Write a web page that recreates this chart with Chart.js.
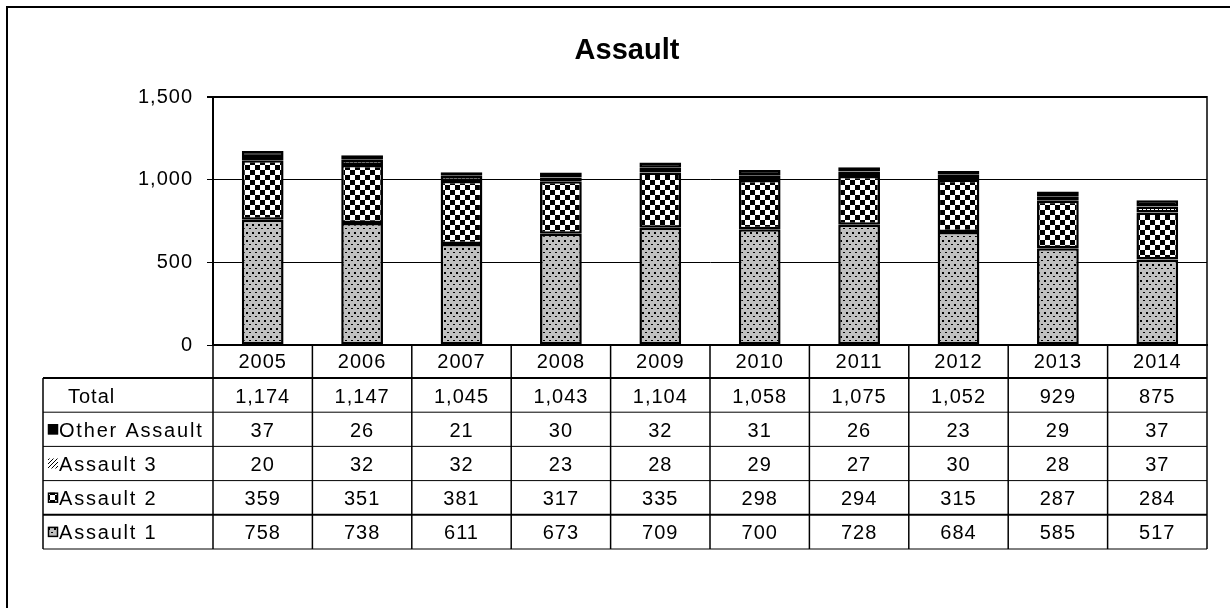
<!DOCTYPE html>
<html>
<head>
<meta charset="utf-8">
<script src="https://cdn.jsdelivr.net/npm/chart.js@4/dist/chart.umd.min.js"></script>
<style>
  html, body { margin: 0; padding: 0; background: #fff; }
</style>
</head>
<body>
<canvas id="graficoAssault" width="1230" height="608"></canvas>
<script>
const anos = ['2005', '2006', '2007', '2008', '2009', '2010', '2011', '2012', '2013', '2014'];
const assault1 = [758, 738, 611, 673, 709, 700, 728, 684, 585, 517];
const assault2 = [359, 351, 381, 317, 335, 298, 294, 315, 287, 284];
const assault3 = [20, 32, 32, 23, 28, 29, 27, 30, 28, 37];
const outroAssault = [37, 26, 21, 30, 32, 31, 26, 23, 29, 37];
const totais = [1174, 1147, 1045, 1043, 1104, 1058, 1075, 1052, 929, 875];
const ticksY = [0, 500, 1000, 1500];

const fonte = 'Arial, "Liberation Sans", sans-serif';

// padroes de preenchimento estilo Excel
function padrao(w, h, desenha) {
    const c = document.createElement('canvas');
    c.width = w; c.height = h;
    const g = c.getContext('2d');
    desenha(g);
    return g.createPattern(c, 'repeat');
}
const pontos = padrao(6, 8, g => {
    g.fillStyle = '#c0c0c0'; g.fillRect(0, 0, 6, 8);
    g.fillStyle = '#000'; g.fillRect(0, 0, 2, 2); g.fillRect(3, 4, 2, 1);
});
const xadrez = padrao(10, 10, g => {
    g.fillStyle = '#fff'; g.fillRect(0, 0, 10, 10);
    g.fillStyle = '#000'; g.fillRect(0, 0, 5, 5); g.fillRect(5, 5, 5, 5);
});
const hachura = padrao(4, 4, g => {
    g.fillStyle = '#fff'; g.fillRect(0, 0, 4, 4);
    g.fillStyle = '#000';
    g.fillRect(3, 0, 1, 1); g.fillRect(2, 1, 1, 1); g.fillRect(1, 2, 1, 1); g.fillRect(0, 3, 1, 1);
});

const linhasTabela = [
    { nome: 'Total', valores: totais, cor: null },
    { nome: 'Other Assault', valores: outroAssault, cor: '#000' },
    { nome: 'Assault 3', valores: assault3, cor: hachura },
    { nome: 'Assault 2', valores: assault2, cor: xadrez },
    { nome: 'Assault 1', valores: assault1, cor: pontos }
];

const tabela = {
    id: 'tabela',
    beforeDraw(chart) {
        const ctx = chart.ctx;
        ctx.save();
        ctx.fillStyle = '#fff';
        ctx.fillRect(0, 0, chart.width, chart.height);
        ctx.strokeStyle = '#000';
        ctx.lineWidth = 2;
        ctx.beginPath();
        ctx.moveTo(7, chart.height + 5); ctx.lineTo(7, 7); ctx.lineTo(chart.width + 5, 7);
        ctx.stroke();
        ctx.restore();
        ctx.letterSpacing = '1px';
    },
    afterDraw(chart) {
        const { ctx, chartArea: a } = chart;
        const n = anos.length;
        const larg = (a.right - a.left) / n;
        const topo = a.bottom + 33;
        const alt = 34.2;
        const fundo = topo + alt * 5;
        const esq = 43;
        const linha = (x1, y1, x2, y2, w) => {
            ctx.lineWidth = w;
            ctx.beginPath(); ctx.moveTo(x1, y1); ctx.lineTo(x2, y2); ctx.stroke();
        };
        ctx.save();
        ctx.strokeStyle = '#000';
        linha(a.right, a.top - 1, a.right, a.bottom, 1.5);
        for (let i = 0; i <= n; i++) {
            const xx = a.left + i * larg;
            linha(xx, a.bottom, xx, fundo, 1.5);
        }
        linha(esq, topo, esq, fundo, 1.5);
        [2, 1, 1, 1, 2, 1].forEach((w, k) => linha(esq, topo + k * alt, a.right, topo + k * alt, w));

        ctx.fillStyle = '#000';
        ctx.font = '20px ' + fonte;
        ctx.textBaseline = 'alphabetic';
        linhasTabela.forEach((r, k) => {
            const yc = topo + alt * k + alt / 2;
            ctx.letterSpacing = '1px';
            ctx.textAlign = 'center';
            r.valores.forEach((v, i) => {
                ctx.fillText(v.toLocaleString('en-US'), a.left + (i + 0.5) * larg, yc + 7.5);
            });
            ctx.textAlign = 'left';
            if (r.cor) {
                ctx.fillStyle = r.cor;
                ctx.fillRect(48, yc - 5, 10, 10);
                ctx.lineWidth = 1.5;
                if (r.cor !== hachura) ctx.strokeRect(48.5, yc - 4.5, 9, 9);
                ctx.fillStyle = '#000';
                ctx.letterSpacing = '1.8px';
                ctx.fillText(r.nome, 59, yc + 7.5);
            } else {
                ctx.fillText(r.nome, 68, yc + 7.5);
            }
        });

        ctx.letterSpacing = '0px';
        ctx.font = 'bold 29px ' + fonte;
        ctx.textAlign = 'center';
        ctx.fillText('Assault', 627, 59);
        ctx.restore();
    }
};

const comum = { borderColor: '#000', borderWidth: 2.5, borderSkipped: false, barPercentage: 0.42, categoryPercentage: 1 };

new Chart(document.getElementById('graficoAssault'), {
    type: 'bar',
    data: {
        labels: anos,
        datasets: [
            { label: 'Assault 1', data: assault1, backgroundColor: pontos, ...comum },
            { label: 'Assault 2', data: assault2, backgroundColor: xadrez, ...comum },
            { label: 'Assault 3', data: assault3, backgroundColor: hachura, ...comum },
            { label: 'Other Assault', data: outroAssault, backgroundColor: '#000', ...comum }
        ]
    },
    options: {
        responsive: false,
        animation: false,
        devicePixelRatio: 1,
        layout: { padding: { top: 97, right: 23, bottom: 230, left: 0 } },
        plugins: {
            legend: { display: false },
            tooltip: { enabled: false },
            title: { display: false }
        },
        scales: {
            x: {
                stacked: true,
                grid: { display: false },
                border: { display: true, color: '#000', width: 2 },
                ticks: { color: '#000', font: { family: fonte, size: 20 }, padding: -3, maxRotation: 0 },
                afterFit: s => { s.height = 33; }
            },
            y: {
                stacked: true,
                min: 0,
                max: 1500,
                afterBuildTicks: s => { s.ticks = ticksY.map(v => ({ value: v })); },
                ticks: { color: '#000', font: { family: fonte, size: 20 }, padding: 14 },
                grid: {
                    color: '#000',
                    lineWidth: c => (c.tick && c.tick.value === 1500 ? 2 : 1),
                    tickLength: 6
                },
                border: { color: '#000', width: 2 },
                afterFit: s => { s.width = 213; }
            }
        }
    },
    plugins: [tabela]
});
</script>
</body>
</html>
